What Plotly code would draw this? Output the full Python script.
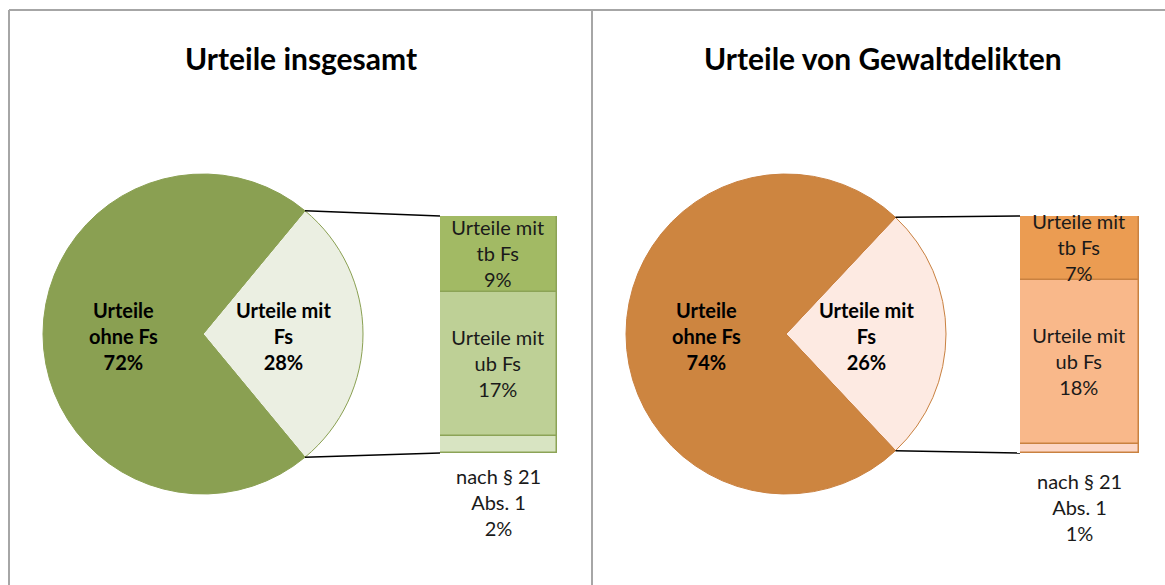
import numpy as np
import plotly.graph_objects as go

W, H = 1165, 585
FONT = "Lato"

# ---------------- data ----------------
titles = ["Urteile insgesamt", "Urteile von Gewaltdelikten"]
pie_labels = ["Urteile mit<br>Fs", "Urteile<br>ohne Fs"]
pie_values_total = [28, 72]
pie_values_violent = [26, 74]
bar_labels = ["nach § 21<br>Abs. 1", "Urteile mit<br>ub Fs", "Urteile mit<br>tb Fs"]
bar_values_total = [2, 17, 9]
bar_values_violent = [1, 18, 7]

# ---------------- styles / layout ----------------
panels = [
    dict(title=titles[0], pie=pie_values_total, bar=bar_values_total,
         pie_colors=["#EBEFE2", "#8AA052"], pie_edge="#8AA052",
         bar_colors=["#D8E4C2", "#BED096", "#A2BA64"], bar_edge="#8CA356",
         cx=203, cy=334, r=160, bar_x=(440, 557), bar_y=(216, 453),
         title_x=301, foot_y=502, xa="x", ya="y"),
    dict(title=titles[1], pie=pie_values_violent, bar=bar_values_violent,
         pie_colors=["#FDEAE2", "#CD8540"], pie_edge="#C98140",
         bar_colors=["#FCD6C6", "#F9B88A", "#EB9C52"], bar_edge="#C98140",
         cx=786, cy=334, r=160, bar_x=(1020, 1139), bar_y=(216, 453),
         title_x=883, foot_y=507, xa="x2", ya="y2"),
]

LBL = 20


def px(x):
    return x / W


def py(y):
    return 1 - y / H


fig = go.Figure()
shapes = []
annotations = []

for i, p in enumerate(panels):
    cx, cy, r = p["cx"], p["cy"], p["r"]
    share = p["pie"][0] / sum(p["pie"])
    rot = 90 - 360 * share / 2
    fig.add_trace(go.Pie(
        values=p["pie"], labels=["a", "b"], sort=False, direction="clockwise",
        rotation=rot, textinfo="none", hoverinfo="skip", showlegend=False,
        marker=dict(colors=p["pie_colors"], line=dict(color=p["pie_edge"], width=1)),
        domain=dict(x=[px(cx - r), px(cx + r)], y=[py(cy + r), py(cy - r)]),
    ))
    # pie labels
    for lab, val, sign in [(pie_labels[0], p["pie"][0], 1), (pie_labels[1], p["pie"][1], -1)]:
        annotations.append(dict(
            x=px(cx + sign * 0.5 * r), y=py(cy + 2), xref="paper", yref="paper",
            text=f"<b>{lab}<br>{val}%</b>", showarrow=False, align="center",
            xanchor="center", yanchor="middle",
            font=dict(family=FONT, size=LBL, color="#000000")))

    # stacked bar
    vals = p["bar"]
    base = np.concatenate([[0], np.cumsum(vals)[:-1]]).tolist()
    texts = [""] + [f"{bar_labels[k]}<br>{vals[k]}%" for k in range(1, 3)]
    fig.add_trace(go.Bar(
        x=[0, 0, 0], y=vals, base=base, width=1,
        marker=dict(color=p["bar_colors"], line=dict(color=p["bar_edge"], width=1.5)),
        text=texts, textposition="inside", insidetextanchor="middle",
        constraintext="none", textangle=0, cliponaxis=False,
        insidetextfont=dict(family=FONT, size=LBL, color="#1A1A1A"),
        hoverinfo="skip", showlegend=False, xaxis=p["xa"], yaxis=p["ya"],
    ))
    total = sum(vals)
    axn = "" if i == 0 else "2"
    fig.update_layout(**{
        f"xaxis{axn}": dict(domain=[px(p["bar_x"][0]), px(p["bar_x"][1])], range=[-0.5, 0.5],
                            visible=False, fixedrange=True),
        f"yaxis{axn}": dict(domain=[py(p["bar_y"][1]), py(p["bar_y"][0])], range=[0, total],
                            visible=False, fixedrange=True),
    })
    # footnote label for bottom segment
    annotations.append(dict(
        x=px((p["bar_x"][0] + p["bar_x"][1]) / 2), y=py(p["foot_y"]), xref="paper", yref="paper",
        text=f"{bar_labels[0]}<br>{vals[0]}%", showarrow=False, align="center",
        xanchor="center", yanchor="middle",
        font=dict(family=FONT, size=LBL, color="#1A1A1A")))

    # connector lines from pie slice edges to bar corners
    a = np.deg2rad(rot)
    ex = cx + r * np.sin(a)
    ey_top = cy - r * np.cos(a)
    ey_bot = cy + r * np.cos(a)
    for ey, by in [(ey_top, p["bar_y"][0]), (ey_bot, p["bar_y"][1])]:
        shapes.append(dict(type="line", xref="paper", yref="paper",
                           x0=px(ex), y0=py(ey), x1=px(p["bar_x"][0]), y1=py(by),
                           line=dict(color="#000000", width=1.5)))

    # title
    annotations.append(dict(
        x=px(p["title_x"]), y=py(58), xref="paper", yref="paper",
        text=f"<b>{p['title']}</b>", showarrow=False, xanchor="center", yanchor="middle",
        font=dict(family=FONT, size=30, color="#000000")))

# frame lines
frame = "#A6A6A6"
shapes += [
    dict(type="line", xref="paper", yref="paper", x0=px(9), y0=py(10), x1=1, y1=py(10),
         line=dict(color=frame, width=2)),
    dict(type="line", xref="paper", yref="paper", x0=px(9), y0=py(10), x1=px(9), y1=0,
         line=dict(color=frame, width=2)),
    dict(type="line", xref="paper", yref="paper", x0=px(592), y0=py(10), x1=px(592), y1=0,
         line=dict(color=frame, width=2)),
]

fig.update_layout(
    width=W, height=H, margin=dict(l=0, r=0, t=0, b=0),
    paper_bgcolor="white", plot_bgcolor="white",
    barmode="overlay", bargap=0, showlegend=False,
    shapes=shapes, annotations=annotations,
    font=dict(family=FONT),
)

fig.write_html("out.html", config={"displayModeBar": False},
               post_script="document.body.style.margin='0';document.body.style.overflow='hidden';")
